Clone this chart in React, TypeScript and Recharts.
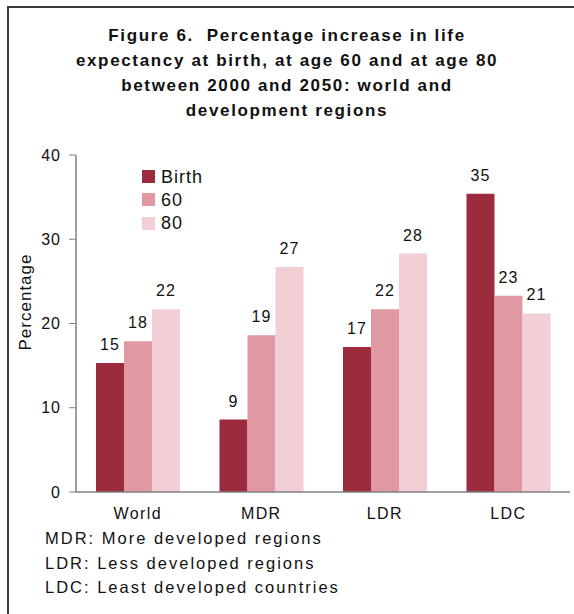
import React from 'react';
import { BarChart, Bar, XAxis, YAxis, LabelList } from 'recharts';

const categories = ['World', 'MDR', 'LDR', 'LDC'];
const birth = [15.3, 8.6, 17.2, 35.4];
const age60 = [17.9, 18.6, 21.7, 23.3];
const age80 = [21.7, 26.7, 28.3, 21.2];
const yTicks = [0, 10, 20, 30, 40];
const seriesNames = ['Birth', '60', '80'];
const seriesColors = ['#9B2B3D', '#E098A3', '#F2CFD5'];
const titleLines = [
  'Figure 6.  Percentage increase in life',
  'expectancy at birth, at age 60 and at age 80',
  'between 2000 and 2050: world and',
  'development regions',
];
const footnotes = [
  'MDR: More developed regions',
  'LDR: Less developed regions',
  'LDC: Least developed countries',
];

const data = categories.map((c, i) => ({
  name: c,
  birth: birth[i],
  age60: age60[i],
  age80: age80[i],
}));

const FONT = '"Liberation Sans", Arial, sans-serif';

const YLabel = () => (
  <text
    x={25}
    y={302}
    transform="rotate(-90 25 302)"
    textAnchor="middle"
    dominantBaseline="central"
    fontFamily={FONT}
    fontSize={17}
    letterSpacing={1}
    fill="#111"
  >
    Percentage
  </text>
);

export default function App() {
  const keys = ['birth', 'age60', 'age80'];
  return (
    <div style={{ position: 'absolute', left: 0, top: 0, width: 574, height: 614, background: '#fff', overflow: 'hidden' }}>
      <div
        style={{
          position: 'absolute',
          left: 7,
          top: 6,
          width: 600,
          height: 700,
          borderLeft: '2px solid #3a3a3a',
          borderTop: '2px solid #3a3a3a',
        }}
      />
      <div
        style={{
          position: 'absolute',
          left: 0,
          top: 23,
          width: 574,
          textAlign: 'center',
          fontFamily: FONT,
          fontWeight: 'bold',
          fontSize: 17,
          letterSpacing: 1.65,
          lineHeight: '25px',
          color: '#111',
        }}
      >
        {titleLines.map((t) => (
          <div key={t} style={{ whiteSpace: 'pre' }}>{t}</div>
        ))}
      </div>
      <div style={{ position: 'absolute', left: 0, top: 0 }}>
        <BarChart
          width={574}
          height={614}
          data={data}
          margin={{ top: 155, right: 4, bottom: 0, left: 0 }}
          barCategoryGap={20}
          barGap={0}
        >
          <XAxis
            dataKey="name"
            tickLine={false}
            axisLine={{ stroke: '#808080', strokeWidth: 1.5 }}
            tick={{ fontFamily: FONT, fontSize: 16, fill: '#111', letterSpacing: 1.4 }}
            tickMargin={10}
            height={122}
          />
          <YAxis
            domain={[0, 40]}
            ticks={yTicks}
            width={76}
            tickSize={7}
            tickMargin={8}
            axisLine={{ stroke: '#808080', strokeWidth: 1.5 }}
            tickLine={{ stroke: '#808080' }}
            tick={{ fontFamily: FONT, fontSize: 16, fill: '#111', letterSpacing: 1 }}
            label={<YLabel />}
          />
          {keys.map((k, i) => (
            <Bar key={k} dataKey={k} name={seriesNames[i]} fill={seriesColors[i]} isAnimationActive={false}>
              <LabelList
                dataKey={k}
                position="top"
                offset={13}
                formatter={(v: any) => Math.round(Number(v))}
                style={{ fontFamily: FONT, fontSize: 16, fill: '#111', letterSpacing: 1 }}
              />
            </Bar>
          ))}
        </BarChart>
      </div>
      <div style={{ position: 'absolute', left: 142, top: 165, fontFamily: FONT }}>
        {seriesNames.map((n, i) => (
          <div key={n} style={{ display: 'flex', alignItems: 'center', height: 23.3 }}>
            <div style={{ width: 13, height: 13, background: seriesColors[i], marginRight: 6 }} />
            <span style={{ fontSize: 18, letterSpacing: 1, color: '#111', lineHeight: '18px' }}>{n}</span>
          </div>
        ))}
      </div>
      <div
        style={{
          position: 'absolute',
          left: 45,
          top: 526,
          fontFamily: FONT,
          fontSize: 16.5,
          letterSpacing: 2,
          lineHeight: '24.5px',
          color: '#111',
        }}
      >
        {footnotes.map((t) => (
          <div key={t}>{t}</div>
        ))}
      </div>
    </div>
  );
}
